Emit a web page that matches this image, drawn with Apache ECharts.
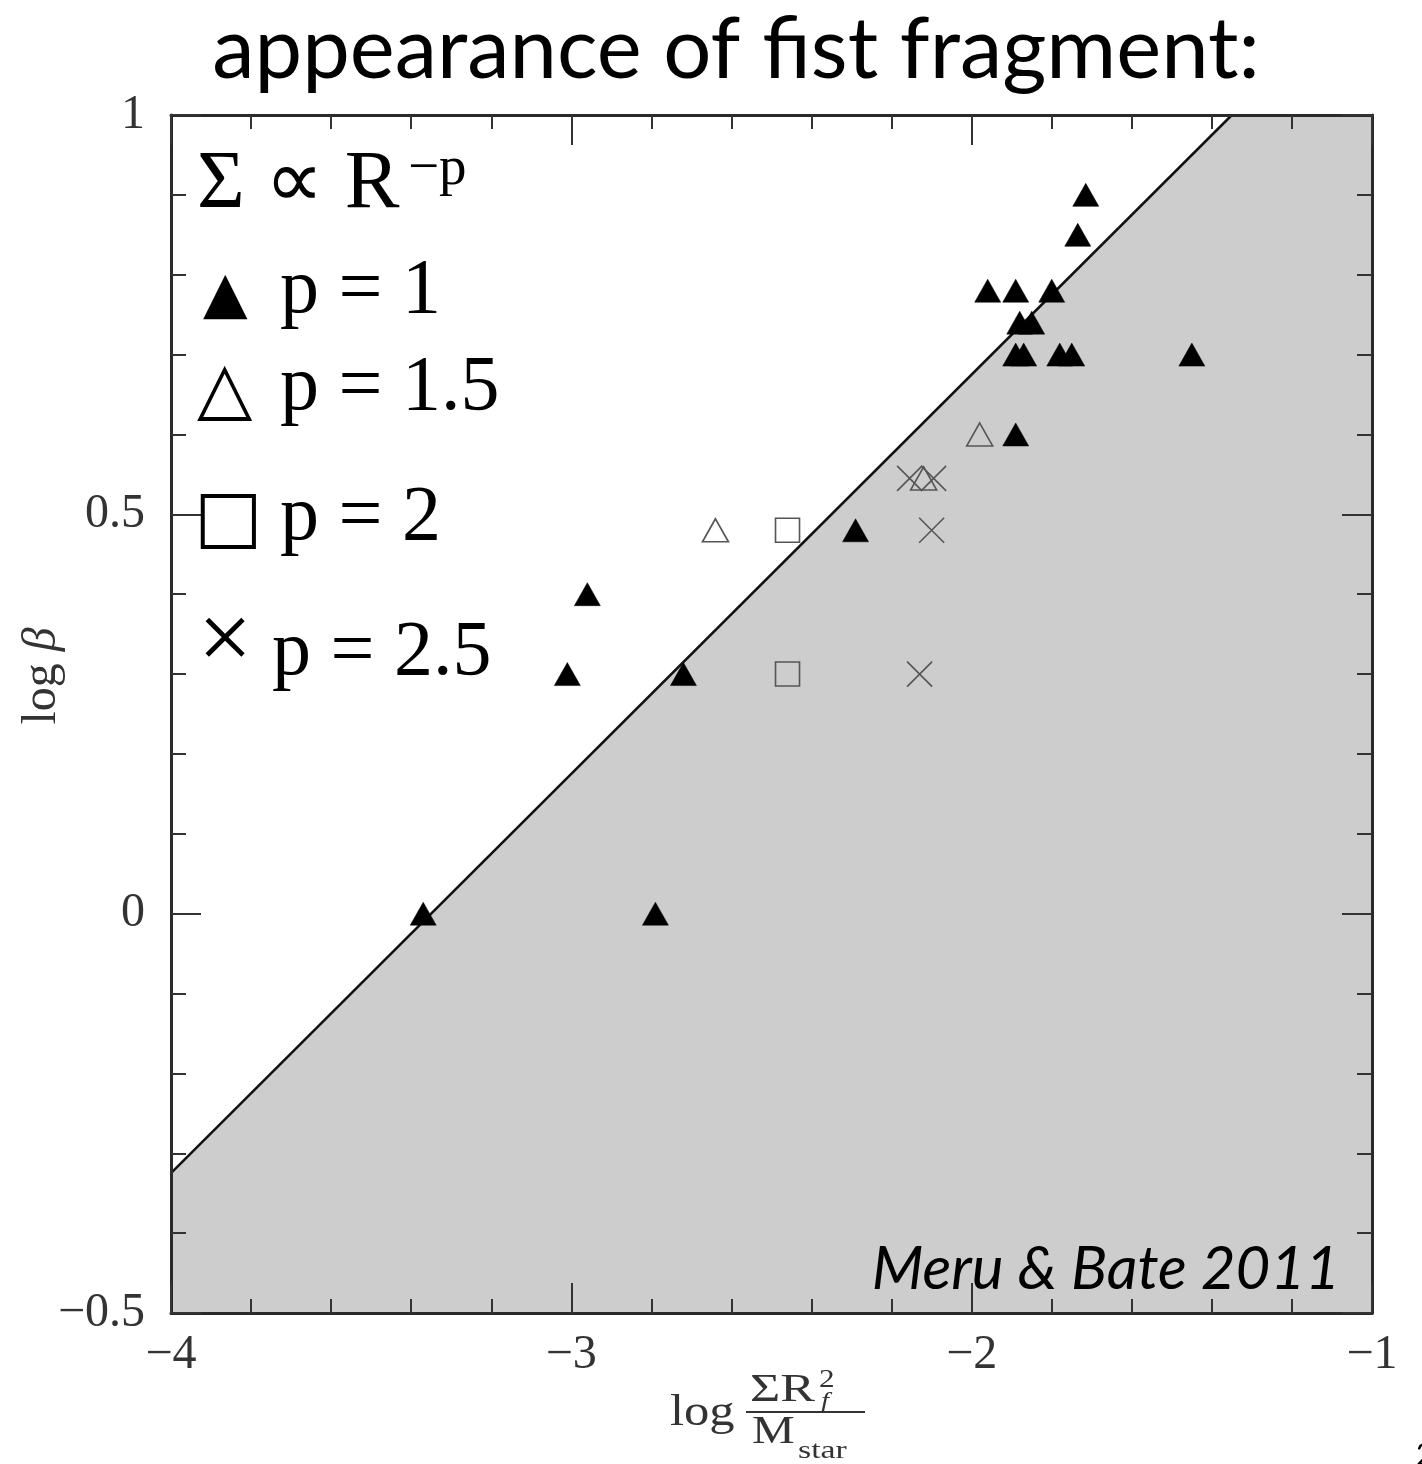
<!DOCTYPE html>
<html>
<head>
<meta charset="utf-8">
<script src="https://cdn.jsdelivr.net/npm/echarts@6/dist/echarts.min.js"></script>
<style>
html,body{margin:0;padding:0;background:#fff;}
#chart{width:1422px;height:1464px;}
</style>
</head>
<body>
<div id="chart"></div>
<script>
// ---- data ----
const X_TICKS = [-4, -3, -2, -1];
const Y_TICKS = [-0.5, 0, 0.5, 1];

// boundary line (log beta vs log SigmaR^2/M)
const BOUNDARY_X = [-4, -1.35, -1];
const BOUNDARY_Y = [-0.325, 1, 1];

// p = 1 (filled triangles)
const P1_X = [-3.37, -2.79, -3.01, -2.96, -2.72, -2.29, -1.89, -1.96, -1.89, -1.80, -1.88, -1.85, -1.89, -1.87, -1.78, -1.75, -1.45, -1.715, -1.735];
const P1_Y = [0.00, 0.00, 0.30, 0.40, 0.30, 0.48, 0.60, 0.78, 0.78, 0.78, 0.74, 0.74, 0.70, 0.70, 0.70, 0.70, 0.70, 0.90, 0.85];
// p = 1.5 (open triangles)
const P15_X = [-2.64, -1.98, -2.12];
const P15_Y = [0.48, 0.60, 0.545];
// p = 2 (open squares)
const P2_X = [-2.46, -2.46];
const P2_Y = [0.48, 0.30];
// p = 2.5 (crosses)
const P25_X = [-2.10, -2.13, -2.155, -2.095];
const P25_Y = [0.48, 0.30, 0.545, 0.545];

const TITLE = 'appearance of fist fragment:';
const CREDIT = 'Meru & Bate 2011';
const LEGEND_HEAD = 'Σ ∝ R';
const LEGEND_SUP = '−p';
const LEGEND_SYMBOLS = ['▲', '△', '□', '×'];
const LEGEND_LABELS = ['p = 1', 'p = 1.5', 'p = 2', 'p = 2.5'];

function zip(xs, ys){ return xs.map((x,i)=>[x, ys[i]]); }
function fmt(v){ return v < 0 ? '−' + String(Math.abs(v)) : String(v); }

const chart = echarts.init(document.getElementById('chart'), null, {renderer:'canvas'});

const axisLineStyle = {color:'#2a2a2a', width:3};
const tickFont = 'Liberation Serif';

function xAxisCfg(pos, showLabel){
  return {
    type:'value', position:pos, min:X_TICKS[0], max:X_TICKS[X_TICKS.length-1], interval:1,
    z:5,
    axisLine:{show:true, onZero:false, lineStyle:axisLineStyle},
    axisTick:{show:true, inside:true, length:30, lineStyle:{color:'#333', width:2}},
    minorTick:{show:true, splitNumber:5, length:14, lineStyle:{color:'#333', width:2}},
    splitLine:{show:false}, minorSplitLine:{show:false},
    axisLabel:{show:showLabel, fontFamily:tickFont, fontSize:48, color:'#333', margin:18, formatter:fmt}
  };
}
function yAxisCfg(pos, showLabel){
  return {
    type:'value', position:pos, min:Y_TICKS[0], max:Y_TICKS[Y_TICKS.length-1], interval:0.5,
    z:5,
    axisLine:{show:true, onZero:false, lineStyle:axisLineStyle},
    axisTick:{show:true, inside:true, length:30, lineStyle:{color:'#333', width:2}},
    minorTick:{show:true, splitNumber:5, length:15, lineStyle:{color:'#333', width:2}},
    splitLine:{show:false}, minorSplitLine:{show:false},
    axisLabel:{show:showLabel, fontFamily:tickFont, fontSize:48, color:'#333', margin:26, formatter:fmt}
  };
}

const T = (o) => Object.assign({type:'text', z:20}, o);
const graphic = [
  T({x:736, y:8, style:{text:TITLE, font:'85px Lato', fill:'#000', align:'center'}}),
  // legend block
  T({x:197, y:185, style:{text:LEGEND_HEAD, font:'82px "Liberation Serif"', fill:'#000', verticalAlign:'middle'}}),
  T({x:408, y:170, style:{text:LEGEND_SUP, font:'55px "Liberation Serif"', fill:'#000', verticalAlign:'middle'}}),
  T({x:203, y:297, style:{text:LEGEND_SYMBOLS[0], font:'58px "DejaVu Sans"', fill:'#000', verticalAlign:'middle'}}),
  T({x:280, y:292, style:{text:LEGEND_LABELS[0], font:'78px "Liberation Serif"', fill:'#000', verticalAlign:'middle'}}),
  T({x:197, y:393, style:{text:LEGEND_SYMBOLS[1], font:'72px "DejaVu Sans"', fill:'#000', verticalAlign:'middle'}}),
  T({x:280, y:389, style:{text:LEGEND_LABELS[1], font:'78px "Liberation Serif"', fill:'#000', verticalAlign:'middle'}}),
  T({x:194, y:521, style:{text:LEGEND_SYMBOLS[2], font:'72px "DejaVu Sans"', fill:'#000', verticalAlign:'middle'}}),
  T({x:280, y:519, style:{text:LEGEND_LABELS[2], font:'78px "Liberation Serif"', fill:'#000', verticalAlign:'middle'}}),
  T({x:198, y:644, style:{text:LEGEND_SYMBOLS[3], font:'96px "Liberation Serif"', fill:'#000', verticalAlign:'middle'}}),
  T({x:272, y:654, style:{text:LEGEND_LABELS[3], font:'78px "Liberation Serif"', fill:'#000', verticalAlign:'middle'}}),
  // credit
  T({x:1340, y:1270, style:{text:CREDIT, font:'italic 60px Lato', fill:'#000', align:'right', verticalAlign:'middle'}}),
  // y axis name
  T({x:42, y:676, rotation:Math.PI/2, style:{
    text:'log {b|β}', font:'48px "Liberation Serif"', fill:'#333', align:'center', verticalAlign:'middle',
    rich:{b:{font:'italic 48px "Liberation Serif"', fill:'#333'}}}}),
  // x axis name
  T({x:670, y:1413, scaleX:1.15, style:{text:'log', font:'44px "Liberation Serif"', fill:'#333', verticalAlign:'middle'}}),
  T({x:750, y:1390, scaleX:1.3, style:{text:'ΣR', font:'40px "Liberation Serif"', fill:'#333', verticalAlign:'middle'}}),
  T({x:819, y:1380, scaleX:1.2, style:{text:'2', font:'26px "Liberation Serif"', fill:'#333', verticalAlign:'middle'}}),
  T({x:821, y:1402, scaleX:1.2, style:{text:'f', font:'italic 24px "Liberation Serif"', fill:'#333', verticalAlign:'middle'}}),
  {type:'line', z:20, shape:{x1:746, y1:1412, x2:865, y2:1412}, style:{stroke:'#333', lineWidth:2}},
  T({x:752, y:1432, scaleX:1.2, style:{text:'M', font:'40px "Liberation Serif"', fill:'#333', verticalAlign:'middle'}}),
  T({x:798, y:1451, scaleX:1.3, style:{text:'star', font:'26px "Liberation Serif"', fill:'#333', verticalAlign:'middle'}}),
  // page number (cut off)
  T({x:1416, y:1455, style:{text:'2', font:'30px Lato', fill:'#000', verticalAlign:'middle'}})
];

const option = {
  backgroundColor:'#fff',
  animation:false,
  grid:{left:171, right:50, top:115, bottom:151, containLabel:false},
  xAxis:[xAxisCfg('bottom', true), xAxisCfg('top', false)],
  yAxis:[yAxisCfg('left', true), yAxisCfg('right', false)],
  graphic: graphic,
  series:[
    {type:'line', name:'region', data:zip(BOUNDARY_X, BOUNDARY_Y), symbol:'none', silent:true, z:1,
     lineStyle:{width:0}, areaStyle:{color:'#cdcdcd', opacity:1, origin:'start'}},
    {type:'line', name:'boundary', data:zip(BOUNDARY_X.slice(0,2), BOUNDARY_Y.slice(0,2)), symbol:'none', silent:true, z:2,
     lineStyle:{color:'#111', width:2.5}},
    {type:'scatter', name:'p = 1', data:zip(P1_X, P1_Y), symbol:'triangle', symbolSize:[26,23], silent:true, z:4,
     itemStyle:{color:'#000', borderColor:'#000', borderWidth:0.5, opacity:1}},
    {type:'scatter', name:'p = 1.5', data:zip(P15_X, P15_Y), symbol:'triangle', symbolSize:[26,23], silent:true, z:3,
     itemStyle:{color:'rgba(0,0,0,0)', borderColor:'#555', borderWidth:1.6, opacity:1}},
    {type:'scatter', name:'p = 2', data:zip(P2_X, P2_Y), symbol:'rect', symbolSize:[24,24], silent:true, z:3,
     itemStyle:{color:'rgba(0,0,0,0)', borderColor:'#555', borderWidth:1.6, opacity:1}},
    {type:'scatter', name:'p = 2.5', data:zip(P25_X, P25_Y), symbol:'path://M0,0L10,10M10,0L0,10', symbolSize:[25,25], silent:true, z:3,
     itemStyle:{color:'rgba(0,0,0,0)', borderColor:'#555', borderWidth:1.6, opacity:1}}
  ]
};
chart.setOption(option);
</script>
</body>
</html>
